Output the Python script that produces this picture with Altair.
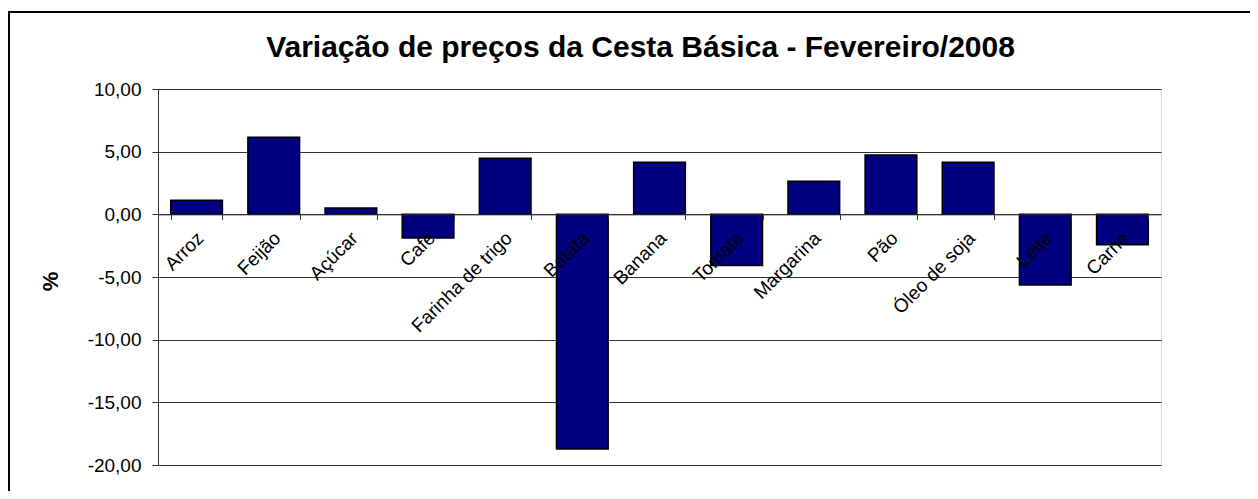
import altair as alt
import pandas as pd

categories = ["Arroz", "Feijão", "Açúcar", "Café", "Farinha de trigo", "Batata",
              "Banana", "Tomate", "Margarina", "Pão", "Óleo de soja", "Leite", "Carne"]
values = [1.12, 6.15, 0.50, -1.89, 4.47, -18.73, 4.15, -4.09, 2.63, 4.73, 4.15, -5.64, -2.42]
y_ticks = [-20, -15, -10, -5, 0, 5, 10]

title_text = "Variação de preços da Cesta Básica - Fevereiro/2008"
y_title = "%"

df = pd.DataFrame({"produto": categories, "variacao": values})

W, H = 1003, 376
ymin, ymax = -20, 10
zero_offset = -H * (0 - ymin) / (ymax - ymin)

FONT = "Liberation Sans"

bars = alt.Chart(df).mark_bar(
    color="#000080", stroke="black", strokeWidth=1.5
).encode(
    x=alt.X(
        "produto:N",
        sort=categories,
        scale=alt.Scale(paddingInner=0.33, paddingOuter=0.165),
        axis=alt.Axis(
            title=None,
            orient="bottom",
            offset=zero_offset,
            tickBand="extent",
            tickSize=5,
            tickColor="#303030",
            domainColor="#303030",
            labelAngle=-45,
            labelAlign="right",
            labelBaseline="top",
            labelPadding=9,
            labelOffset=-3,
            labelFont=FONT,
            labelFontSize=19,
            labelColor="black",
            labelOverlap=False,
            zindex=1,
        ),
    ),
    y=alt.Y(
        "variacao:Q",
        scale=alt.Scale(domain=[ymin, ymax], nice=False, zero=False),
        axis=alt.Axis(
            title=y_title,
            values=y_ticks,
            labelExpr="(datum.value < 0 ? '-' : '') + replace(format(abs(datum.value), '.2f'), '.', ',')",
            labelFont=FONT,
            labelFontSize=19,
            labelColor="black",
            labelPadding=11,
            tickSize=6,
            tickColor="#303030",
            domainColor="#303030",
            grid=True,
            gridColor="#303030",
            gridWidth=1,
            titleFont=FONT,
            titleFontSize=22,
            titleFontWeight="bold",
            titleColor="black",
            titleAngle=270,
            titleAlign="center",
            titleBaseline="middle",
            titleX=-108,
            titleY=H / 2 + 4,
        ),
    ),
)

frame = alt.Chart(df).mark_rect(
    fill=None, stroke="black", strokeWidth=1.5
).encode(
    x=alt.value(-149.5), x2=alt.value(1300),
    y=alt.value(-77), y2=alt.value(600),
)

chart = alt.layer(frame, bars).properties(
    width=W,
    height=H,
    autosize=alt.AutoSizeParams(type="none"),
    padding={"left": 150, "top": 81, "right": 89, "bottom": 26},
    title=alt.TitleParams(
        text=title_text,
        font=FONT,
        fontSize=30,
        fontWeight="bold",
        color="black",
        anchor="middle",
        frame="group",
        baseline="alphabetic",
        offset=0,
        dx=-19,
        dy=76,
    ),
).configure_view(
    stroke="black", strokeWidth=1.5
).configure(background="white")

chart.save("out.html", embed_options={"renderer": "svg", "actions": False})
